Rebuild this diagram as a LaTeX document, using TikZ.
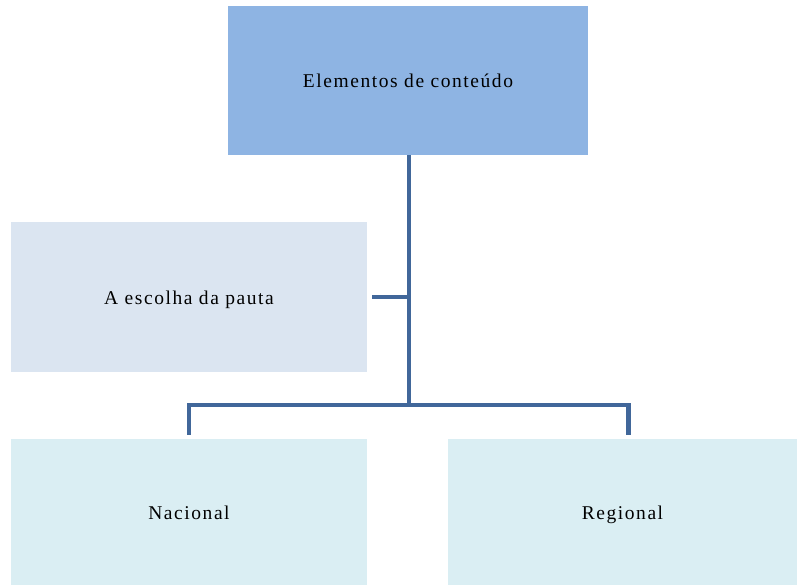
\documentclass[tikz,border=0pt]{standalone}
\usepackage{fontspec}
\setmainfont{Liberation Serif}[LetterSpace=8]
\begin{document}
\begin{tikzpicture}[x=1pt,y=-1pt,
  box/.style={rectangle,inner sep=0pt,text height=18pt,text depth=4pt,font=\fontsize{19.5}{22}\selectfont,text=black},
  conn/.style={draw=lineblue,line width=4.5pt}]
\definecolor{topblue}{HTML}{8EB4E3}
\definecolor{midblue}{HTML}{DBE5F1}
\definecolor{lowblue}{HTML}{DAEEF3}
\definecolor{lineblue}{HTML}{41679A}
\useasboundingbox (0,0) rectangle (797,585);
\node[box,fill=topblue,minimum width=360pt,minimum height=149pt] (top) at (408,80.5) {Elementos de conteúdo};
\node[box,fill=midblue,minimum width=356pt,minimum height=150pt] (mid) at (189,297) {A escolha da pauta};
\node[box,fill=lowblue,minimum width=356pt,minimum height=146pt] (nl) at (189,512) {Nacional};
\node[box,fill=lowblue,minimum width=349pt,minimum height=146pt] (nr) at (622.5,512) {Regional};
\coordinate (j) at (409,405);
\draw[conn] (top.south -| j) -- (j);
\draw[conn] ([xshift=5pt]mid.east) -- (mid.east -| j);
\draw[conn,line join=miter] ([yshift=4pt]nl.north) -- (nl.north |- j) -- ([xshift=6pt]nr.north |- j) -- ([xshift=6pt,yshift=4pt]nr.north);
\end{tikzpicture}
\end{document}
